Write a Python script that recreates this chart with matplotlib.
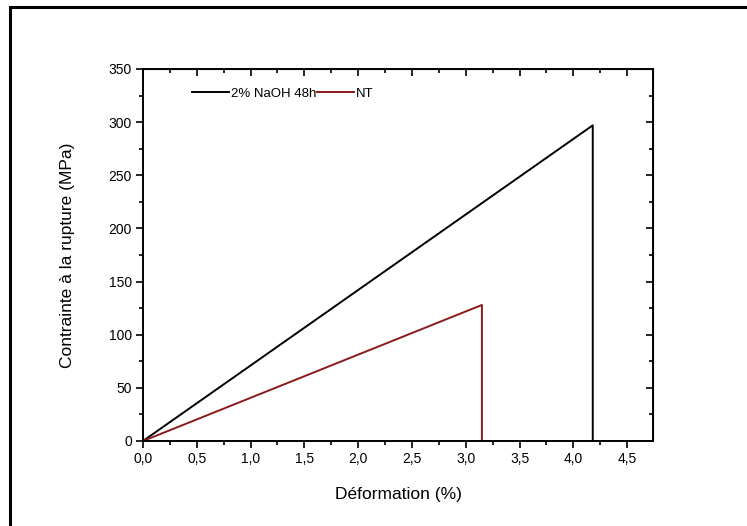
import matplotlib
matplotlib.use('Agg')
import matplotlib.pyplot as plt
from matplotlib.patches import Rectangle
from matplotlib.ticker import MultipleLocator, FormatStrFormatter

plt.rcParams['font.family'] = ['Liberation Sans', 'DejaVu Sans']

# traitement NaOH 2% 48h
naoh_x = [0.0, 4.18, 4.18]
naoh_y = [0.0, 297.0, 0.0]
# non traite
nt_x = [0.0, 3.15, 3.15]
nt_y = [0.0, 128.0, 0.0]

W, H = 747, 526
fig = plt.figure(figsize=(W / 100, H / 100), dpi=100)
fig.patches.append(Rectangle((10 / W, -0.1), 1.2, 1 - 7 / H + 0.1, transform=fig.transFigure,
                             fill=False, lw=2.2, ec='black'))
ax = fig.add_axes([143 / W, 1 - 441 / H, (653 - 143) / W, (441 - 69) / H])

ax.plot(naoh_x, naoh_y, color='black', lw=1.4, label='2% NaOH 48h')
ax.plot(nt_x, nt_y, color='#8b1a1a', lw=1.4, label='NT')

ax.set_xlim(0, 4.74)
ax.set_ylim(0, 350)
ax.xaxis.set_major_locator(MultipleLocator(0.5))
ax.xaxis.set_minor_locator(MultipleLocator(0.25))
ax.yaxis.set_major_locator(MultipleLocator(50))
ax.yaxis.set_minor_locator(MultipleLocator(25))
ax.xaxis.set_major_formatter(lambda v, p: ('%.1f' % v).replace('.', ','))
ax.yaxis.set_major_formatter(FormatStrFormatter('%d'))

ax.tick_params(which='both', direction='out', labelsize=10, width=1.2, pad=3)
ax.tick_params(which='major', length=5)
ax.tick_params(which='minor', length=3)
for s in ax.spines.values():
    s.set_linewidth(1.4)

# axes miroirs, ticks vers l'interieur
top = ax.secondary_xaxis('top')
top.xaxis.set_major_locator(MultipleLocator(0.5))
top.xaxis.set_minor_locator(MultipleLocator(0.25))
top.tick_params(which='both', direction='in', labeltop=False, width=1.2)
top.tick_params(which='major', length=5)
top.tick_params(which='minor', length=3)
right = ax.secondary_yaxis('right')
right.yaxis.set_major_locator(MultipleLocator(50))
right.yaxis.set_minor_locator(MultipleLocator(25))
right.tick_params(which='both', direction='in', labelright=False, width=1.2)
right.tick_params(which='major', length=5)
right.tick_params(which='minor', length=3)

ax.set_xlabel('Déformation (%)', fontsize=12.5, labelpad=15)
ax.set_ylabel('Contrainte à la rupture (MPa)', fontsize=12.5, labelpad=24)

ax.legend(loc='upper left', bbox_to_anchor=(0.085, 0.965), ncol=2, frameon=False,
          fontsize=9.5, handlelength=2.8, handletextpad=0.2, columnspacing=0.0,
          borderaxespad=0)

fig.savefig('out.png', dpi=100)
